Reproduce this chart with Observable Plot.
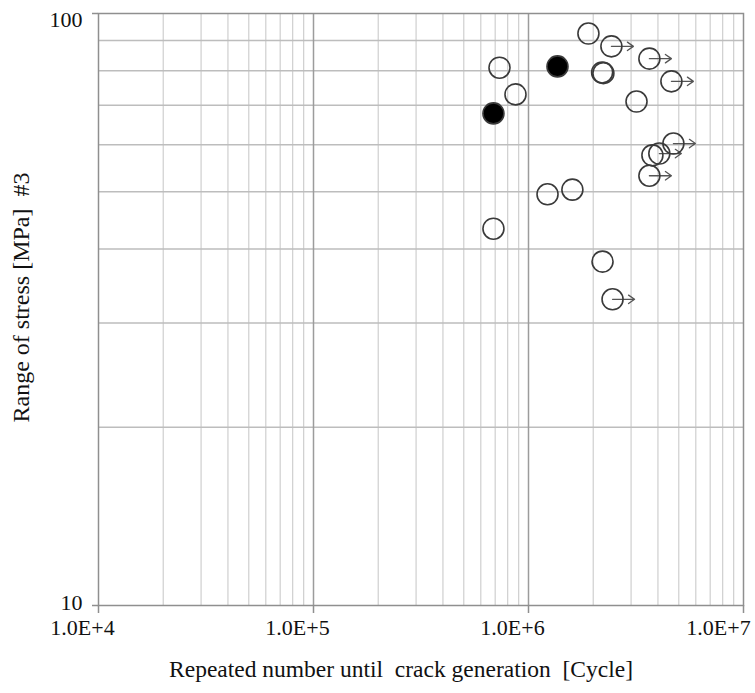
<!DOCTYPE html>
<html>
<head>
<meta charset="utf-8">
<script src="https://cdn.jsdelivr.net/npm/d3@7"></script>
<script src="https://cdn.jsdelivr.net/npm/@observablehq/plot@0.6"></script>
<style>
  html, body { margin: 0; padding: 0; background: #fff; }
  svg { font-family: "Liberation Serif", "Times New Roman", serif; }
</style>
</head>
<body>
<div id="chart"></div>
<script>
// Test results: repeated cycles until crack generation vs. stress range
const cycles  = [7.33e5, 1.364e6, 8.70e5, 6.87e5, 1.90e6, 2.43e6, 2.20e6, 2.23e6, 3.65e6, 4.62e6, 3.18e6, 4.72e6, 3.77e6, 4.06e6, 3.65e6, 1.226e6, 1.60e6, 6.87e5, 2.21e6, 2.46e6];
const stress  = [81.0, 81.4, 73.0, 67.8, 92.5, 88.0, 79.5, 79.3, 83.9, 76.8, 71.0, 60.3, 57.6, 58.0, 53.2, 49.5, 50.4, 43.3, 38.1, 32.9];
const filled  = [false, true, false, true, false, false, false, false, false, false, false, false, false, false, false, false, false, false, false, false];
const runout  = [false, false, false, false, false, true, false, false, true, true, false, true, false, true, true, false, false, false, false, true];

const xTicks = [1e4, 1e5, 1e6, 1e7];
const xTickLabels = ["1.0E+4", "1.0E+5", "1.0E+6", "1.0E+7"];
const yTicks = [10, 100];
const yTickLabels = ["10", "100"];
const xMinorGrid = [2e4,3e4,4e4,5e4,6e4,7e4,8e4,9e4, 2e5,3e5,4e5,5e5,6e5,7e5,8e5,9e5, 2e6,3e6,4e6,5e6,6e6,7e6,8e6,9e6];
const xMajorGrid = [1e5, 1e6];
const yGrid = [20, 30, 40, 50, 60, 70, 80, 90];
const xLabel = "Repeated number until\u00a0 crack generation\u00a0 [Cycle]";
const yLabel = "Range of stress [MPa]\u00a0 #3";

const data = cycles.map((n, i) => ({n, s: stress[i], filled: filled[i], runout: runout[i]}));
const arrowFactor = 1.266;
const xLab = (d) => xTickLabels[xTicks.indexOf(d)];
const yLab = (d) => yTickLabels[yTicks.indexOf(d)];

const chart = Plot.plot({
  width: 755,
  height: 693,
  marginLeft: 98,
  marginRight: 12,
  marginTop: 13,
  marginBottom: 88,
  style: {fontFamily: "Liberation Serif, Times New Roman, serif", fontSize: "22px", background: "#fff", color: "#111"},
  x: {type: "log", domain: [1e4, 1e7]},
  y: {type: "log", domain: [10, 100]},
  marks: [
    Plot.ruleX(xMinorGrid, {stroke: "#cfcfcf", strokeWidth: 1.2}),
    Plot.ruleY(yGrid, {stroke: "#bdbdbd", strokeWidth: 1.5}),
    Plot.ruleX(xMajorGrid, {stroke: "#9c9c9c", strokeWidth: 1.5}),
    Plot.frame({stroke: "#8f8f8f", strokeWidth: 1.5}),
    // tick marks only (labels drawn separately)
    Plot.axisX(xTicks, {tickSize: 8, tickFormat: () => "", stroke: "#8f8f8f", strokeWidth: 1.5, label: null}),
    Plot.axisY(yTicks, {tickSize: 6, tickFormat: () => "", stroke: "#8f8f8f", strokeWidth: 1.5, label: null}),
    // x tick labels
    Plot.text(xTicks.slice(0, 3), {x: d => d, text: xLab, frameAnchor: "bottom", dy: 29, dx: -16, fontSize: 22, fill: "#111"}),
    Plot.text(xTicks.slice(3), {x: d => d, text: xLab, frameAnchor: "bottom", dy: 29, dx: -25, fontSize: 22, fill: "#111"}),
    // y tick labels
    Plot.text(yTicks.slice(0, 1), {y: d => d, text: yLab, frameAnchor: "left", textAnchor: "end", dx: -16, dy: -3, fontSize: 22, fill: "#111"}),
    Plot.text(yTicks.slice(1), {y: d => d, text: yLab, frameAnchor: "left", textAnchor: "end", dx: -16, dy: 6, fontSize: 22, fill: "#111"}),
    Plot.arrow(data.filter(d => d.runout), {
      x1: "n", y1: "s", x2: d => d.n * arrowFactor, y2: "s",
      stroke: "#555", strokeWidth: 1.3, headLength: 9, headAngle: 70, insetStart: 0, insetEnd: 0
    }),
    Plot.dot(data, {x: "n", y: "s", r: 10.5, stroke: "#3a3a3a", strokeWidth: 1.6,
      fill: d => d.filled ? "#000" : "none"}),
    Plot.text([xLabel], {frameAnchor: "bottom", text: d => d, dx: -20, dy: 71, fontSize: 23.5, fill: "#111"}),
    Plot.text([yLabel], {frameAnchor: "left", text: d => d, textAnchor: "middle", rotate: -90, dx: -77, dy: -12, fontSize: 24, fill: "#111"})
  ]
});
document.getElementById("chart").appendChild(chart);
</script>
</body>
</html>
